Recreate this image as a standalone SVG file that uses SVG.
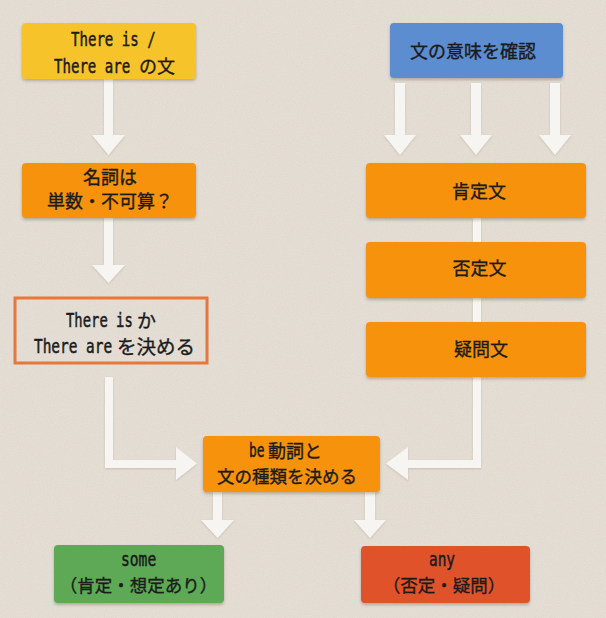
<svg xmlns="http://www.w3.org/2000/svg" width="606" height="618" viewBox="0 0 606 618">
<defs>
<filter id="noise" x="0" y="0" width="100%" height="100%">
<feTurbulence type="fractalNoise" baseFrequency="0.9" numOctaves="2" seed="3" result="n"/>
<feColorMatrix in="n" type="matrix" values="0 0 0 0 0.45  0 0 0 0 0.4  0 0 0 0 0.35  0 0 0 0.35 0"/>
</filter>
<filter id="sh" x="-10%" y="-10%" width="120%" height="130%">
<feDropShadow dx="0" dy="2" stdDeviation="1.8" flood-color="#5a4a3a" flood-opacity="0.35"/>
</filter>
<filter id="ash" x="-20%" y="-20%" width="140%" height="140%">
<feDropShadow dx="0" dy="1" stdDeviation="1.2" flood-color="#8a7a6a" flood-opacity="0.3"/>
</filter>
</defs>
<style>
.box{filter:url(#sh)}
.yel{fill:#F6C42B}
.org{fill:#F7920F}
.blu{fill:#5C8DD1}
.grn{fill:#5DA955}
.red{fill:#E0532B}
.out{fill:none;stroke:#E8773A;stroke-width:3}
.ja{font-family:"Noto Sans CJK JP","Noto Sans CJK SC",sans-serif;font-size:18px;fill:#1b1b1b;stroke:#1b1b1b;stroke-width:0.35px}
.en{font-family:"DejaVu Sans Mono","Liberation Mono",monospace;font-size:19px;fill:#1b1b1b;stroke:#1b1b1b;stroke-width:0.5px}
.mid{text-anchor:middle}
.arr{fill:#F7F5F1;filter:url(#ash)}
</style>
<rect width="606" height="618" fill="#E8E1D8"/>
<rect width="606" height="618" filter="url(#noise)" opacity="0.5"/>

<g id="connectors">
<path class="arr" d="M104,79 H113 V135 H125 L108.5,155 L92,135 H104 Z"/>
<path class="arr" d="M104,218 H113 V265 H125 L108.5,283 L92,265 H104 Z"/>
<path class="arr" d="M105,377 H113 V460 H176 V447 L197,463.5 L176,480 V468 H105 Z"/>
<path class="arr" d="M395,83 H405 V135 H416 L400,155 L384,135 H395 Z"/>
<path class="arr" d="M471,83 H481 V135 H492 L476,155 L460,135 H471 Z"/>
<path class="arr" d="M550,83 H560 V135 H571 L555,155 L539,135 H550 Z"/>
<rect class="arr" x="473" y="218" width="8" height="24"/>
<rect class="arr" x="473" y="298" width="8" height="24"/>
<path class="arr" d="M473,377 H481 V468 H408 V480 L386,463.5 L408,447 V460 H473 Z"/>
<path class="arr" d="M213,492 H222 V520 H234 L217.5,538 L201,520 H213 Z"/>
<path class="arr" d="M365,492 H375 V520 H386 L370,538 L354,520 H365 Z"/>
</g>

<g id="node-there">
<rect class="box yel" x="22" y="23" width="174" height="56" rx="4"/>
<text class="en" transform="translate(71,46) scale(0.74,1)">There is /</text>
<text class="en" transform="translate(54,73) scale(0.74,1)">There are</text>
<text class="ja" x="139" y="73">の文</text>
</g>

<g id="node-noun">
<rect class="box org" x="22" y="163" width="174" height="55" rx="4"/>
<text class="ja mid" x="110" y="184">名詞は</text>
<text class="ja mid" x="110" y="208">単数・不可算？</text>
</g>

<g id="node-decide">
<rect class="out" x="15" y="298" width="192" height="65"/>
<text class="en" transform="translate(66,327) scale(0.73,1)">There is</text>
<text class="ja" x="137" y="328" style="font-size:19px">か</text>
<text class="en" transform="translate(34,353) scale(0.76,1)">There are</text>
<text class="ja" x="117" y="354" style="font-size:19.5px">を決める</text>
</g>

<g id="node-meaning">
<rect class="box blu" x="390" y="23" width="173" height="55" rx="4"/>
<text class="ja mid" x="473" y="58">文の意味を確認</text>
</g>

<g id="node-affirm">
<rect class="box org" x="366" y="163" width="220" height="55" rx="4"/>
<text class="ja mid" x="479" y="198">肯定文</text>
</g>

<g id="node-negative">
<rect class="box org" x="366" y="242" width="220" height="56" rx="4"/>
<text class="ja mid" x="479.5" y="275">否定文</text>
</g>

<g id="node-question">
<rect class="box org" x="366" y="322" width="220" height="55" rx="4"/>
<text class="ja mid" x="481" y="356">疑問文</text>
</g>

<g id="node-be">
<rect class="box org" x="203" y="436" width="177" height="56" rx="4"/>
<text class="en" transform="translate(249,457) scale(0.68,1)">be</text>
<text class="ja" x="268" y="458">動詞と</text>
<text class="ja" x="217" y="483" style="font-size:17.5px">文の種類を決める</text>
</g>

<g id="node-some">
<rect class="box grn" x="54" y="545" width="170" height="58" rx="4"/>
<text class="en" transform="translate(121,566) scale(0.77,1)">some</text>
<text class="ja mid" x="138.5" y="592" style="font-size:17.5px">（肯定・想定あり）</text>
</g>

<g id="node-any">
<rect class="box red" x="361" y="546" width="169" height="57" rx="4"/>
<text class="en" transform="translate(429,566) scale(0.76,1)">any</text>
<text class="ja mid" x="444" y="592" style="font-size:17.5px">（否定・疑問）</text>
</g>
</svg>
